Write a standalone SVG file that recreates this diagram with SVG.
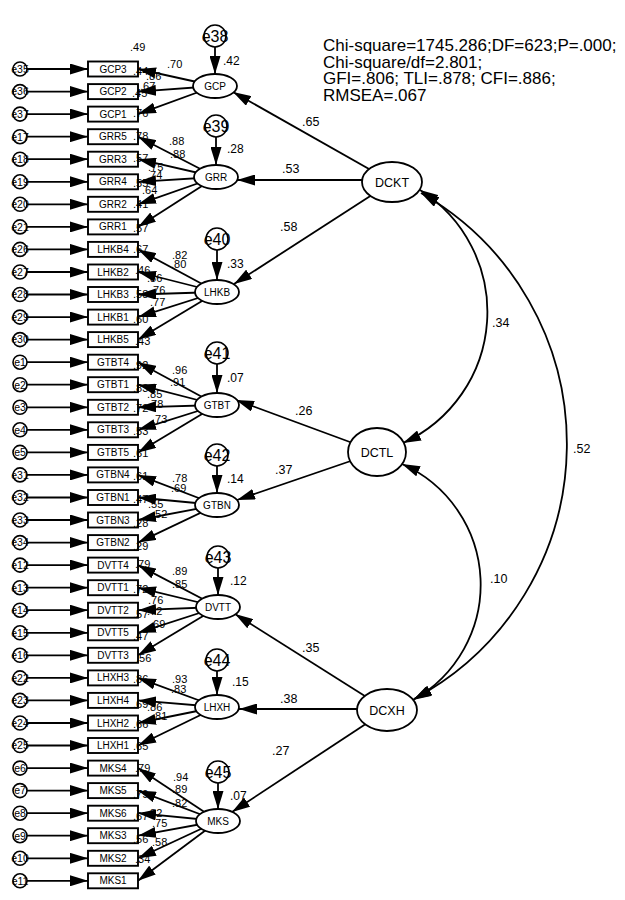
<svg xmlns="http://www.w3.org/2000/svg" width="625" height="900" viewBox="0 0 625 900">
<style>
text{font-family:"Liberation Sans",Arial,sans-serif;fill:#000}
.box rect{fill:#fff;stroke:#000;stroke-width:1.9}
.box text{font-size:10px;text-anchor:middle}
.err circle{fill:#fff;stroke:#000;stroke-width:1.6}
.err text{font-size:10.5px;text-anchor:middle}
.lat ellipse{fill:#fff;stroke:#000;stroke-width:1.8}
.lat text{font-size:10px;text-anchor:middle}
.big ellipse{fill:#fff;stroke:#000;stroke-width:1.8}
.big text{font-size:12.5px;text-anchor:middle}
.le circle{fill:#fff;stroke:#000;stroke-width:1.6}
.le text{font-size:16px;text-anchor:middle}
.s{font-size:11px}
.m{font-size:12px}
.p{font-size:12.5px}
.fit{font-size:17px}
#connectors line,#connectors path{stroke:#000;stroke-width:1.8;fill:none}
.a{marker-end:url(#ah)}
.c{marker-start:url(#ah);marker-end:url(#ah)}
</style>
<defs>
<marker id="ah" viewBox="0 0 18 11" refX="18" refY="5.5" markerWidth="18" markerHeight="11" markerUnits="userSpaceOnUse" orient="auto-start-reverse"><path d="M0,0 L18,5.5 L0,11 z" fill="#000"/></marker>
</defs>
<rect width="625" height="900" fill="#fff"/>

<g id="GCP3" class="box"><rect x="88" y="61.5" width="50" height="15"/><text x="113" y="72.5">GCP3</text></g>
<g id="GCP2" class="box"><rect x="88" y="84.1" width="50" height="15"/><text x="113" y="95.1">GCP2</text></g>
<g id="GCP1" class="box"><rect x="88" y="106.6" width="50" height="15"/><text x="113" y="117.6">GCP1</text></g>
<g id="GRR5" class="box"><rect x="88" y="129.2" width="50" height="15"/><text x="113" y="140.2">GRR5</text></g>
<g id="GRR3" class="box"><rect x="88" y="151.7" width="50" height="15"/><text x="113" y="162.7">GRR3</text></g>
<g id="GRR4" class="box"><rect x="88" y="174.3" width="50" height="15"/><text x="113" y="185.3">GRR4</text></g>
<g id="GRR2" class="box"><rect x="88" y="196.8" width="50" height="15"/><text x="113" y="207.8">GRR2</text></g>
<g id="GRR1" class="box"><rect x="88" y="219.4" width="50" height="15"/><text x="113" y="230.4">GRR1</text></g>
<g id="LHKB4" class="box"><rect x="88" y="241.9" width="50" height="15"/><text x="113" y="252.9">LHKB4</text></g>
<g id="LHKB2" class="box"><rect x="88" y="264.5" width="50" height="15"/><text x="113" y="275.5">LHKB2</text></g>
<g id="LHKB3" class="box"><rect x="88" y="287" width="50" height="15"/><text x="113" y="298">LHKB3</text></g>
<g id="LHKB1" class="box"><rect x="88" y="309.6" width="50" height="15"/><text x="113" y="320.6">LHKB1</text></g>
<g id="LHKB5" class="box"><rect x="88" y="332.1" width="50" height="15"/><text x="113" y="343.1">LHKB5</text></g>
<g id="GTBT4" class="box"><rect x="88" y="354.7" width="50" height="15"/><text x="113" y="365.7">GTBT4</text></g>
<g id="GTBT1" class="box"><rect x="88" y="377.2" width="50" height="15"/><text x="113" y="388.2">GTBT1</text></g>
<g id="GTBT2" class="box"><rect x="88" y="399.8" width="50" height="15"/><text x="113" y="410.8">GTBT2</text></g>
<g id="GTBT3" class="box"><rect x="88" y="422.3" width="50" height="15"/><text x="113" y="433.3">GTBT3</text></g>
<g id="GTBT5" class="box"><rect x="88" y="444.9" width="50" height="15"/><text x="113" y="455.9">GTBT5</text></g>
<g id="GTBN4" class="box"><rect x="88" y="467.4" width="50" height="15"/><text x="113" y="478.4">GTBN4</text></g>
<g id="GTBN1" class="box"><rect x="88" y="490" width="50" height="15"/><text x="113" y="501">GTBN1</text></g>
<g id="GTBN3" class="box"><rect x="88" y="512.5" width="50" height="15"/><text x="113" y="523.5">GTBN3</text></g>
<g id="GTBN2" class="box"><rect x="88" y="535.1" width="50" height="15"/><text x="113" y="546.1">GTBN2</text></g>
<g id="DVTT4" class="box"><rect x="88" y="557.6" width="50" height="15"/><text x="113" y="568.6">DVTT4</text></g>
<g id="DVTT1" class="box"><rect x="88" y="580.2" width="50" height="15"/><text x="113" y="591.2">DVTT1</text></g>
<g id="DVTT2" class="box"><rect x="88" y="602.7" width="50" height="15"/><text x="113" y="613.7">DVTT2</text></g>
<g id="DVTT5" class="box"><rect x="88" y="625.3" width="50" height="15"/><text x="113" y="636.3">DVTT5</text></g>
<g id="DVTT3" class="box"><rect x="88" y="647.8" width="50" height="15"/><text x="113" y="658.8">DVTT3</text></g>
<g id="LHXH3" class="box"><rect x="88" y="670.4" width="50" height="15"/><text x="113" y="681.4">LHXH3</text></g>
<g id="LHXH4" class="box"><rect x="88" y="692.9" width="50" height="15"/><text x="113" y="703.9">LHXH4</text></g>
<g id="LHXH2" class="box"><rect x="88" y="715.5" width="50" height="15"/><text x="113" y="726.5">LHXH2</text></g>
<g id="LHXH1" class="box"><rect x="88" y="738" width="50" height="15"/><text x="113" y="749">LHXH1</text></g>
<g id="MKS4" class="box"><rect x="88" y="760.6" width="50" height="15"/><text x="113" y="771.6">MKS4</text></g>
<g id="MKS5" class="box"><rect x="88" y="783.1" width="50" height="15"/><text x="113" y="794.1">MKS5</text></g>
<g id="MKS6" class="box"><rect x="88" y="805.7" width="50" height="15"/><text x="113" y="816.7">MKS6</text></g>
<g id="MKS3" class="box"><rect x="88" y="828.2" width="50" height="15"/><text x="113" y="839.2">MKS3</text></g>
<g id="MKS2" class="box"><rect x="88" y="850.8" width="50" height="15"/><text x="113" y="861.8">MKS2</text></g>
<g id="MKS1" class="box"><rect x="88" y="873.3" width="50" height="15"/><text x="113" y="884.3">MKS1</text></g>

<g id="labels">
<text class="s" x="130" y="51">.49</text>
<text class="s" x="167" y="68">.70</text>
<text class="s" x="133" y="75">.44</text>
<text class="s" x="146" y="80">.86</text>
<text class="s" x="132" y="97">.45</text>
<text class="s" x="140" y="90">.67</text>
<text class="s" x="133" y="117">.76</text>
<text class="s" x="169" y="145">.88</text>
<text class="s" x="170" y="158">.88</text>
<text class="s" x="133" y="140">.78</text>
<text class="s" x="133" y="162">.57</text>
<text class="s" x="148" y="171">.75</text>
<text class="s" x="133" y="187">.55</text>
<text class="s" x="147" y="179">.74</text>
<text class="s" x="142" y="194">.64</text>
<text class="s" x="133" y="208">.41</text>
<text class="s" x="133" y="232">.57</text>
<text class="s" x="172" y="259">.82</text>
<text class="s" x="171" y="268">.80</text>
<text class="s" x="133" y="253">.67</text>
<text class="s" x="135" y="274">.46</text>
<text class="s" x="147" y="282">.86</text>
<text class="s" x="150" y="294">.76</text>
<text class="s" x="133" y="298">.58</text>
<text class="s" x="150" y="306">.77</text>
<text class="s" x="133" y="323">.60</text>
<text class="s" x="135" y="345">.43</text>
<text class="s" x="172" y="374">.96</text>
<text class="s" x="170" y="386">.91</text>
<text class="s" x="133" y="369">.92</text>
<text class="s" x="133" y="392">.83</text>
<text class="s" x="147" y="398">.85</text>
<text class="s" x="148" y="408">.78</text>
<text class="s" x="133" y="412">.72</text>
<text class="s" x="152" y="423">.73</text>
<text class="s" x="133" y="435">.53</text>
<text class="s" x="133" y="457">.61</text>
<text class="s" x="172" y="482">.78</text>
<text class="s" x="171" y="492">.69</text>
<text class="s" x="133" y="480">.61</text>
<text class="s" x="133" y="503">.47</text>
<text class="s" x="148" y="508">.55</text>
<text class="s" x="152" y="518">.52</text>
<text class="s" x="133" y="527">.28</text>
<text class="s" x="133" y="550">.29</text>
<text class="s" x="172" y="575">.89</text>
<text class="s" x="172" y="588">.85</text>
<text class="s" x="135" y="568">.79</text>
<text class="s" x="133" y="593">.72</text>
<text class="s" x="148" y="604">.76</text>
<text class="s" x="147" y="615">.72</text>
<text class="s" x="133" y="618">.57</text>
<text class="s" x="150" y="628">.69</text>
<text class="s" x="133" y="640">.47</text>
<text class="s" x="136" y="662">.56</text>
<text class="s" x="172" y="683">.93</text>
<text class="s" x="171" y="693">.83</text>
<text class="s" x="133" y="683">.86</text>
<text class="s" x="133" y="708">.69</text>
<text class="s" x="147" y="711">.86</text>
<text class="s" x="152" y="720">.81</text>
<text class="s" x="133" y="728">.66</text>
<text class="s" x="133" y="750">.65</text>
<text class="s" x="135" y="772">.79</text>
<text class="s" x="173" y="781">.94</text>
<text class="s" x="172" y="793">.89</text>
<text class="s" x="172" y="807">.82</text>
<text class="s" x="133" y="798">.79</text>
<text class="s" x="147" y="817">.82</text>
<text class="s" x="133" y="820">.67</text>
<text class="s" x="152" y="827">.75</text>
<text class="s" x="133" y="843">.56</text>
<text class="s" x="152" y="846">.58</text>
<text class="s" x="135" y="863">.34</text>
<text class="m" x="223" y="65">.42</text>
<text class="m" x="227" y="153">.28</text>
<text class="m" x="227" y="268">.33</text>
<text class="m" x="227" y="382">.07</text>
<text class="m" x="227" y="483">.14</text>
<text class="m" x="230" y="585">.12</text>
<text class="m" x="232" y="686">.15</text>
<text class="m" x="230" y="800">.07</text>
<text class="p" x="302" y="126">.65</text>
<text class="p" x="282" y="173">.53</text>
<text class="p" x="280" y="231">.58</text>
<text class="p" x="295" y="415">.26</text>
<text class="p" x="275" y="474">.37</text>
<text class="p" x="302" y="652">.35</text>
<text class="p" x="280" y="703">.38</text>
<text class="p" x="272" y="755">.27</text>
<text class="p" x="492" y="327">.34</text>
<text class="p" x="490" y="583">.10</text>
<text class="p" x="573" y="453">.52</text>
</g>

<g id="connectors">
<line class="a" x1="20" y1="69" x2="88" y2="69"/>
<line class="a" x1="20" y1="91.6" x2="88" y2="91.6"/>
<line class="a" x1="20" y1="114.1" x2="88" y2="114.1"/>
<line class="a" x1="20" y1="136.7" x2="88" y2="136.7"/>
<line class="a" x1="20" y1="159.2" x2="88" y2="159.2"/>
<line class="a" x1="20" y1="181.8" x2="88" y2="181.8"/>
<line class="a" x1="20" y1="204.3" x2="88" y2="204.3"/>
<line class="a" x1="20" y1="226.9" x2="88" y2="226.9"/>
<line class="a" x1="20" y1="249.4" x2="88" y2="249.4"/>
<line class="a" x1="20" y1="272" x2="88" y2="272"/>
<line class="a" x1="20" y1="294.5" x2="88" y2="294.5"/>
<line class="a" x1="20" y1="317.1" x2="88" y2="317.1"/>
<line class="a" x1="20" y1="339.6" x2="88" y2="339.6"/>
<line class="a" x1="20" y1="362.2" x2="88" y2="362.2"/>
<line class="a" x1="20" y1="384.7" x2="88" y2="384.7"/>
<line class="a" x1="20" y1="407.3" x2="88" y2="407.3"/>
<line class="a" x1="20" y1="429.8" x2="88" y2="429.8"/>
<line class="a" x1="20" y1="452.4" x2="88" y2="452.4"/>
<line class="a" x1="20" y1="474.9" x2="88" y2="474.9"/>
<line class="a" x1="20" y1="497.5" x2="88" y2="497.5"/>
<line class="a" x1="20" y1="520" x2="88" y2="520"/>
<line class="a" x1="20" y1="542.6" x2="88" y2="542.6"/>
<line class="a" x1="20" y1="565.1" x2="88" y2="565.1"/>
<line class="a" x1="20" y1="587.7" x2="88" y2="587.7"/>
<line class="a" x1="20" y1="610.2" x2="88" y2="610.2"/>
<line class="a" x1="20" y1="632.8" x2="88" y2="632.8"/>
<line class="a" x1="20" y1="655.3" x2="88" y2="655.3"/>
<line class="a" x1="20" y1="677.9" x2="88" y2="677.9"/>
<line class="a" x1="20" y1="700.4" x2="88" y2="700.4"/>
<line class="a" x1="20" y1="723" x2="88" y2="723"/>
<line class="a" x1="20" y1="745.5" x2="88" y2="745.5"/>
<line class="a" x1="20" y1="768.1" x2="88" y2="768.1"/>
<line class="a" x1="20" y1="790.6" x2="88" y2="790.6"/>
<line class="a" x1="20" y1="813.2" x2="88" y2="813.2"/>
<line class="a" x1="20" y1="835.7" x2="88" y2="835.7"/>
<line class="a" x1="20" y1="858.3" x2="88" y2="858.3"/>
<line class="a" x1="20" y1="880.8" x2="88" y2="880.8"/>
<line class="a" x1="215" y1="86" x2="138" y2="69"/>
<line class="a" x1="215" y1="86" x2="138" y2="91.6"/>
<line class="a" x1="215" y1="86" x2="138" y2="114.1"/>
<line class="a" x1="216" y1="177" x2="138" y2="136.7"/>
<line class="a" x1="216" y1="177" x2="138" y2="159.2"/>
<line class="a" x1="216" y1="177" x2="138" y2="181.8"/>
<line class="a" x1="216" y1="177" x2="138" y2="204.3"/>
<line class="a" x1="216" y1="177" x2="138" y2="226.9"/>
<line class="a" x1="217" y1="292" x2="138" y2="249.4"/>
<line class="a" x1="217" y1="292" x2="138" y2="272"/>
<line class="a" x1="217" y1="292" x2="138" y2="294.5"/>
<line class="a" x1="217" y1="292" x2="138" y2="317.1"/>
<line class="a" x1="217" y1="292" x2="138" y2="339.6"/>
<line class="a" x1="217" y1="405" x2="138" y2="362.2"/>
<line class="a" x1="217" y1="405" x2="138" y2="384.7"/>
<line class="a" x1="217" y1="405" x2="138" y2="407.3"/>
<line class="a" x1="217" y1="405" x2="138" y2="429.8"/>
<line class="a" x1="217" y1="405" x2="138" y2="452.4"/>
<line class="a" x1="217" y1="505" x2="138" y2="474.9"/>
<line class="a" x1="217" y1="505" x2="138" y2="497.5"/>
<line class="a" x1="217" y1="505" x2="138" y2="520"/>
<line class="a" x1="217" y1="505" x2="138" y2="542.6"/>
<line class="a" x1="218" y1="607" x2="138" y2="565.1"/>
<line class="a" x1="218" y1="607" x2="138" y2="587.7"/>
<line class="a" x1="218" y1="607" x2="138" y2="610.2"/>
<line class="a" x1="218" y1="607" x2="138" y2="632.8"/>
<line class="a" x1="218" y1="607" x2="138" y2="655.3"/>
<line class="a" x1="217" y1="707" x2="138" y2="677.9"/>
<line class="a" x1="217" y1="707" x2="138" y2="700.4"/>
<line class="a" x1="217" y1="707" x2="138" y2="723"/>
<line class="a" x1="217" y1="707" x2="138" y2="745.5"/>
<line class="a" x1="218" y1="821" x2="138" y2="768.1"/>
<line class="a" x1="218" y1="821" x2="138" y2="790.6"/>
<line class="a" x1="218" y1="821" x2="138" y2="813.2"/>
<line class="a" x1="218" y1="821" x2="138" y2="835.7"/>
<line class="a" x1="218" y1="821" x2="138" y2="858.3"/>
<line class="a" x1="218" y1="821" x2="138" y2="880.8"/>
<line class="a" x1="215" y1="36" x2="215" y2="74"/>
<line class="a" x1="216" y1="126" x2="216" y2="165"/>
<line class="a" x1="217" y1="239" x2="217" y2="280"/>
<line class="a" x1="217" y1="353" x2="217" y2="393"/>
<line class="a" x1="217" y1="455" x2="217" y2="493"/>
<line class="a" x1="218" y1="557" x2="218" y2="595"/>
<line class="a" x1="217" y1="660" x2="217" y2="695"/>
<line class="a" x1="218" y1="772" x2="218" y2="809"/>
<line class="a" x1="392" y1="182" x2="233" y2="92"/>
<line class="a" x1="392" y1="180" x2="237" y2="180"/>
<line class="a" x1="392" y1="182" x2="234" y2="284"/>
<line class="a" x1="377" y1="452" x2="236" y2="400"/>
<line class="a" x1="377" y1="452" x2="237" y2="500"/>
<line class="a" x1="387" y1="710" x2="235" y2="614"/>
<line class="a" x1="387" y1="709" x2="239" y2="709"/>
<line class="a" x1="387" y1="710" x2="232" y2="812"/>
<path class="c" d="M420,190 A144,144 0 0 1 403,443"/>
<path class="c" d="M402,464 A132,132 0 0 1 413,700"/>
<path class="c" d="M421,193 A289,289 0 0 1 414,699"/>
</g>

<g id="e35" class="err"><circle cx="20" cy="69" r="7"/><text x="20" y="72.8">e35</text></g>
<g id="e36" class="err"><circle cx="20" cy="91.6" r="7"/><text x="20" y="95.4">e36</text></g>
<g id="e37" class="err"><circle cx="20" cy="114.1" r="7"/><text x="20" y="117.9">e37</text></g>
<g id="e17" class="err"><circle cx="20" cy="136.7" r="7"/><text x="20" y="140.5">e17</text></g>
<g id="e18" class="err"><circle cx="20" cy="159.2" r="7"/><text x="20" y="163">e18</text></g>
<g id="e19" class="err"><circle cx="20" cy="181.8" r="7"/><text x="20" y="185.6">e19</text></g>
<g id="e20" class="err"><circle cx="20" cy="204.3" r="7"/><text x="20" y="208.1">e20</text></g>
<g id="e21" class="err"><circle cx="20" cy="226.9" r="7"/><text x="20" y="230.7">e21</text></g>
<g id="e26" class="err"><circle cx="20" cy="249.4" r="7"/><text x="20" y="253.2">e26</text></g>
<g id="e27" class="err"><circle cx="20" cy="272" r="7"/><text x="20" y="275.8">e27</text></g>
<g id="e28" class="err"><circle cx="20" cy="294.5" r="7"/><text x="20" y="298.3">e28</text></g>
<g id="e29" class="err"><circle cx="20" cy="317.1" r="7"/><text x="20" y="320.9">e29</text></g>
<g id="e30" class="err"><circle cx="20" cy="339.6" r="7"/><text x="20" y="343.4">e30</text></g>
<g id="e1" class="err"><circle cx="20" cy="362.2" r="7"/><text x="20" y="366">e1</text></g>
<g id="e2" class="err"><circle cx="20" cy="384.7" r="7"/><text x="20" y="388.5">e2</text></g>
<g id="e3" class="err"><circle cx="20" cy="407.3" r="7"/><text x="20" y="411.1">e3</text></g>
<g id="e4" class="err"><circle cx="20" cy="429.8" r="7"/><text x="20" y="433.6">e4</text></g>
<g id="e5" class="err"><circle cx="20" cy="452.4" r="7"/><text x="20" y="456.2">e5</text></g>
<g id="e31" class="err"><circle cx="20" cy="474.9" r="7"/><text x="20" y="478.7">e31</text></g>
<g id="e32" class="err"><circle cx="20" cy="497.5" r="7"/><text x="20" y="501.3">e32</text></g>
<g id="e33" class="err"><circle cx="20" cy="520" r="7"/><text x="20" y="523.8">e33</text></g>
<g id="e34" class="err"><circle cx="20" cy="542.6" r="7"/><text x="20" y="546.4">e34</text></g>
<g id="e12" class="err"><circle cx="20" cy="565.1" r="7"/><text x="20" y="568.9">e12</text></g>
<g id="e13" class="err"><circle cx="20" cy="587.7" r="7"/><text x="20" y="591.5">e13</text></g>
<g id="e14" class="err"><circle cx="20" cy="610.2" r="7"/><text x="20" y="614">e14</text></g>
<g id="e15" class="err"><circle cx="20" cy="632.8" r="7"/><text x="20" y="636.6">e15</text></g>
<g id="e16" class="err"><circle cx="20" cy="655.3" r="7"/><text x="20" y="659.1">e16</text></g>
<g id="e22" class="err"><circle cx="20" cy="677.9" r="7"/><text x="20" y="681.7">e22</text></g>
<g id="e23" class="err"><circle cx="20" cy="700.4" r="7"/><text x="20" y="704.2">e23</text></g>
<g id="e24" class="err"><circle cx="20" cy="723" r="7"/><text x="20" y="726.8">e24</text></g>
<g id="e25" class="err"><circle cx="20" cy="745.5" r="7"/><text x="20" y="749.3">e25</text></g>
<g id="e6" class="err"><circle cx="20" cy="768.1" r="7"/><text x="20" y="771.9">e6</text></g>
<g id="e7" class="err"><circle cx="20" cy="790.6" r="7"/><text x="20" y="794.4">e7</text></g>
<g id="e8" class="err"><circle cx="20" cy="813.2" r="7"/><text x="20" y="817">e8</text></g>
<g id="e9" class="err"><circle cx="20" cy="835.7" r="7"/><text x="20" y="839.5">e9</text></g>
<g id="e10" class="err"><circle cx="20" cy="858.3" r="7"/><text x="20" y="862.1">e10</text></g>
<g id="e11" class="err"><circle cx="20" cy="880.8" r="7"/><text x="20" y="884.6">e11</text></g>

<g id="GCP" class="lat"><ellipse cx="215" cy="86" rx="22" ry="12"/><text x="215" y="89.5">GCP</text></g>
<g id="GRR" class="lat"><ellipse cx="216" cy="177" rx="22" ry="12"/><text x="216" y="180.5">GRR</text></g>
<g id="LHKB" class="lat"><ellipse cx="217" cy="292" rx="22" ry="12"/><text x="217" y="295.5">LHKB</text></g>
<g id="GTBT" class="lat"><ellipse cx="217" cy="405" rx="22" ry="12"/><text x="217" y="408.5">GTBT</text></g>
<g id="GTBN" class="lat"><ellipse cx="217" cy="505" rx="22" ry="12"/><text x="217" y="508.5">GTBN</text></g>
<g id="DVTT" class="lat"><ellipse cx="218" cy="607" rx="22" ry="12"/><text x="218" y="610.5">DVTT</text></g>
<g id="LHXH" class="lat"><ellipse cx="217" cy="707" rx="22" ry="12"/><text x="217" y="710.5">LHXH</text></g>
<g id="MKS" class="lat"><ellipse cx="218" cy="821" rx="22" ry="12"/><text x="218" y="824.5">MKS</text></g>

<g id="e38" class="le"><circle cx="215" cy="36" r="11"/><text x="215" y="41.8">e38</text></g>
<g id="e39" class="le"><circle cx="216" cy="126" r="11"/><text x="216" y="131.8">e39</text></g>
<g id="e40" class="le"><circle cx="217" cy="239" r="11"/><text x="217" y="244.8">e40</text></g>
<g id="e41" class="le"><circle cx="217" cy="353" r="11"/><text x="217" y="358.8">e41</text></g>
<g id="e42" class="le"><circle cx="217" cy="455" r="11"/><text x="217" y="460.8">e42</text></g>
<g id="e43" class="le"><circle cx="218" cy="557" r="11"/><text x="218" y="562.8">e43</text></g>
<g id="e44" class="le"><circle cx="217" cy="660" r="11"/><text x="217" y="665.8">e44</text></g>
<g id="e45" class="le"><circle cx="218" cy="772" r="11"/><text x="218" y="777.8">e45</text></g>

<g id="DCKT" class="big"><ellipse cx="392" cy="182" rx="30" ry="20"/><text x="392" y="186.5">DCKT</text></g>
<g id="DCTL" class="big"><ellipse cx="377" cy="452" rx="29" ry="24"/><text x="377" y="456.5">DCTL</text></g>
<g id="DCXH" class="big"><ellipse cx="387" cy="710" rx="30" ry="21"/><text x="387" y="714.5">DCXH</text></g>

<g id="fit">
<text class="fit" x="323" y="51">Chi-square=1745.286;DF=623;P=.000;</text>
<text class="fit" x="323" y="68">Chi-square/df=2.801;</text>
<text class="fit" x="323" y="84">GFI=.806; TLI=.878; CFI=.886;</text>
<text class="fit" x="323" y="101">RMSEA=.067</text>
</g>
</svg>
